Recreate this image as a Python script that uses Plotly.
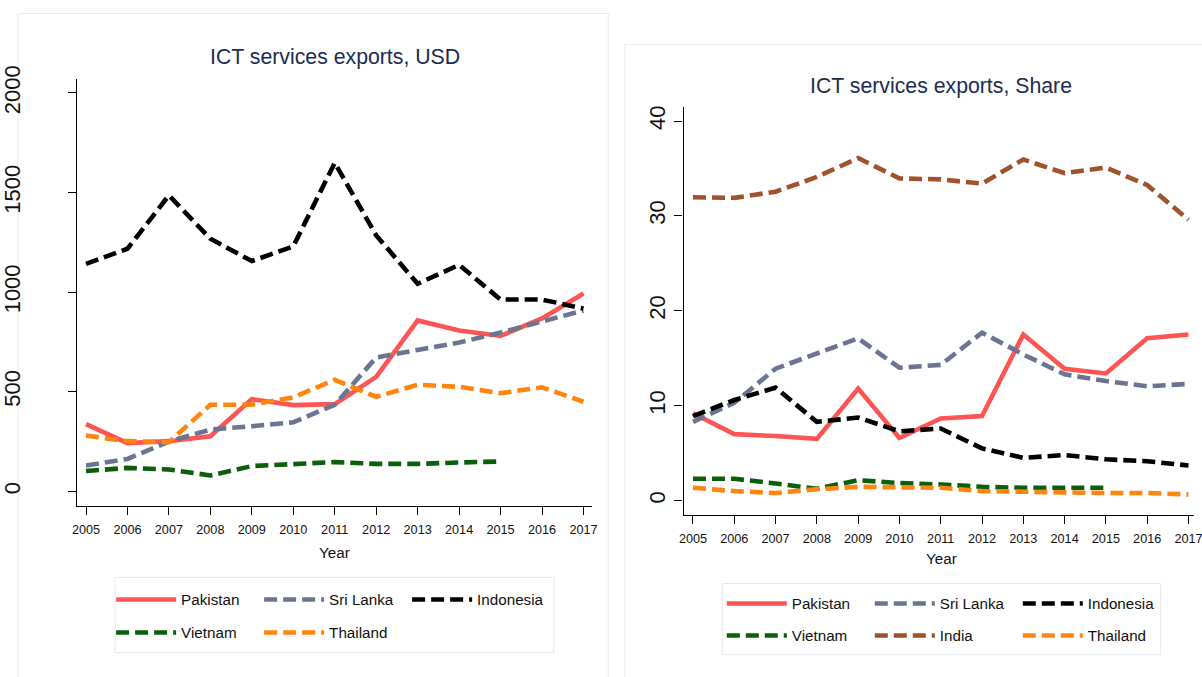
import plotly.graph_objects as go

# ---------------- data ----------------
years = list(range(2005, 2018))
year_labels = [str(y) for y in years]

usd_pakistan = [338, 242, 252, 277, 463, 433, 438, 575, 858, 808, 780, 868, 993]
usd_srilanka = [130, 163, 250, 310, 327, 347, 435, 672, 710, 747, 797, 850, 908]
usd_indonesia = [1142, 1218, 1486, 1268, 1156, 1230, 1649, 1285, 1042, 1137, 963, 963, 918]
usd_vietnam = [102, 118, 110, 80, 127, 138, 147, 138, 138, 145, 150, None, None]
usd_thailand = [280, 252, 247, 435, 435, 472, 560, 475, 535, 525, 493, 522, 450]

share_pakistan = [9.2, 7.0, 6.8, 6.5, 11.8, 6.6, 8.65, 8.9, 17.5, 13.9, 13.4, 17.1, 17.5]
share_srilanka = [8.3, 10.3, 13.9, 15.5, 17.1, 14.0, 14.3, 17.7, 15.4, 13.3, 12.6, 12.05, 12.3]
share_indonesia = [8.9, 10.6, 11.9, 8.3, 8.75, 7.3, 7.6, 5.5, 4.5, 4.8, 4.35, 4.15, 3.7]
share_vietnam = [2.3, 2.3, 1.8, 1.25, 2.15, 1.85, 1.7, 1.45, 1.35, 1.35, 1.35, None, None]
share_india = [31.96, 31.9, 32.55, 34.1, 36.1, 33.95, 33.85, 33.4, 35.95, 34.5, 35.1, 33.25, 29.6]
share_thailand = [1.35, 1.0, 0.8, 1.2, 1.45, 1.35, 1.35, 1.0, 0.9, 0.9, 0.8, 0.8, 0.65]

usd_ticks = [0, 500, 1000, 1500, 2000]
share_ticks = [0, 10, 20, 30, 40]

title_left = "ICT services exports, USD"
title_right = "ICT services exports, Share"
xlabel = "Year"

# ---------------- styling ----------------
W, H = 1202, 677
# measured mapping page-px -> photographed px (s = S*p + O)
SX, OX = 0.987, 10.2
SY, OY = 0.979, 13.5
K = 1 / SX  # size compensation

FONT = "Liberation Sans, Arial, Helvetica, sans-serif"
DASH = "13px,6px"
LW = 4.6

colors = {
    "Pakistan": "#fd5454",
    "Sri Lanka": "#6b7591",
    "Indonesia": "#000000",
    "Vietnam": "#0a5f0a",
    "India": "#a0522d",
    "Thailand": "#ff8410",
}


def sx(s):
    """target picture x-pixel -> paper fraction"""
    return min(1.0, max(0.0, (s - OX) / SX / W))


def sy(s):
    return 1 - (s - OY) / SY / H


fig = go.Figure()


def add(name, xs, ys, xa, ya, legend):
    fig.add_trace(go.Scatter(
        x=xs, y=ys, name=name, mode="lines",
        line=dict(color=colors[name], width=LW,
                  dash="solid" if name == "Pakistan" else DASH),
        xaxis=xa, yaxis=ya, legend=legend, connectgaps=False,
        hoverinfo="skip",
    ))


add("Pakistan", years, usd_pakistan, "x", "y", "legend")
add("Sri Lanka", years, usd_srilanka, "x", "y", "legend")
add("Indonesia", years, usd_indonesia, "x", "y", "legend")
add("Vietnam", years, usd_vietnam, "x", "y", "legend2")
add("Thailand", years, usd_thailand, "x", "y", "legend2")

add("Pakistan", years, share_pakistan, "x2", "y2", "legend3")
add("Sri Lanka", years, share_srilanka, "x2", "y2", "legend3")
add("Indonesia", years, share_indonesia, "x2", "y2", "legend3")
add("Vietnam", years, share_vietnam, "x2", "y2", "legend4")
add("India", years, share_india, "x2", "y2", "legend4")
add("Thailand", years, share_thailand, "x2", "y2", "legend4")

xaxis_common = dict(
    showline=True, linecolor="#000", linewidth=1.3, ticks="outside", ticklen=8,
    tickcolor="#000", tickwidth=1.2, showgrid=False, zeroline=False,
    tickvals=years, ticktext=year_labels,
    tickfont=dict(family=FONT, size=12.5 * K, color="#111"),
    ticklabelstandoff=4, ticklabeloverflow="allow", fixedrange=True,
)
yaxis_common = dict(
    showline=True, linecolor="#000", linewidth=1.3, ticks="outside", ticklen=8,
    tickcolor="#000", tickwidth=1.2, showgrid=False, zeroline=False,
    tickangle=-90, tickfont=dict(family=FONT, size=22, color="#111"),
    ticklabeloverflow="allow", fixedrange=True,
)

leg_common = dict(
    orientation="h", itemwidth=60, entrywidth=73, entrywidthmode="pixels",
    font=dict(family=FONT, size=15 * K, color="#111"),
    bgcolor="rgba(0,0,0,0)", borderwidth=0, xanchor="left", yanchor="middle",
    traceorder="normal", itemclick=False, itemdoubleclick=False,
)

# axis extents measured on the target picture
L_x0, L_x1, L_y0, L_y1 = 72, 590, 505.7, 79.3
R_x0, R_y0, R_y1 = 682.5, 514.3, 107.3
R_x1 = OX + SX * W  # right edge of the page in picture px

l_scale = (581.7 - 80.7) / 12.0
l_range = [2005 - (80.7 - L_x0) / l_scale, 2017 + (L_x1 - 581.7) / l_scale]
r_scale = (1191 - 692) / 12.0
r_range = [2005 - (692 - R_x0) / r_scale, 2017 + (R_x1 - 1191) / r_scale]

ly_scale = (491 - 93.3) / 2000.0
ly_range = [-(L_y0 - 491) / ly_scale, 2000 + (93.3 - L_y1) / ly_scale]
ry_scale = (500.2 - 121.3) / 40.0
ry_range = [-(R_y0 - 500.2) / ry_scale, 40 + (121.3 - R_y1) / ry_scale]

fig.update_layout(
    width=W, height=H, autosize=False,
    margin=dict(l=0, r=0, t=0, b=0, pad=0),
    paper_bgcolor="white", plot_bgcolor="white",
    xaxis=dict(domain=[sx(L_x0), sx(L_x1)], range=l_range, anchor="y", **xaxis_common),
    yaxis=dict(domain=[sy(L_y0), sy(L_y1)], range=ly_range, anchor="x",
               tickvals=usd_ticks, ticktext=[str(t) for t in usd_ticks],
               ticklabelstandoff=39, **yaxis_common),
    xaxis2=dict(domain=[sx(R_x0), 1.0], range=r_range, anchor="y2", **xaxis_common),
    yaxis2=dict(domain=[sy(R_y0), sy(R_y1)], range=ry_range, anchor="x2",
                tickvals=share_ticks, ticktext=[str(t) for t in share_ticks],
                ticklabelstandoff=1, **yaxis_common),
    legend=dict(x=sx(106), y=sy(599), **leg_common),
    legend2=dict(x=sx(106), y=sy(632), **leg_common),
    legend3=dict(x=sx(721), y=sy(603), **leg_common),
    legend4=dict(x=sx(721), y=sy(635), **leg_common),
    showlegend=True,
)

# panel frames and legend boxes
frame_col = "#e6edf0"
fig.add_shape(type="rect", xref="paper", yref="paper",
              x0=sx(12), x1=sx(606.7), y0=-0.1, y1=sy(14),
              line=dict(color=frame_col, width=1), fillcolor="rgba(0,0,0,0)", layer="below")
fig.add_shape(type="rect", xref="paper", yref="paper",
              x0=sx(623.3), x1=1.05, y0=-0.1, y1=sy(45),
              line=dict(color=frame_col, width=1), fillcolor="rgba(0,0,0,0)", layer="below")
fig.add_shape(type="rect", xref="paper", yref="paper",
              x0=sx(110), x1=sx(552), y0=sy(652), y1=sy(577),
              line=dict(color="#e3eaee", width=1), fillcolor="rgba(0,0,0,0)", layer="below")
fig.add_shape(type="rect", xref="paper", yref="paper",
              x0=sx(721.5), x1=sx(1163), y0=sy(654), y1=sy(583),
              line=dict(color="#e3eaee", width=1), fillcolor="rgba(0,0,0,0)", layer="below")

TITLE_COL = "#1d2b52"
for txt, x, y, size, col in [
    (title_left, 331, 57, 21 * K, TITLE_COL),
    (title_right, 942, 86, 21 * K, TITLE_COL),
    (xlabel, 331, 552, 15 * K, "#111"),
    (xlabel, 942, 558, 15 * K, "#111"),
]:
    fig.add_annotation(text=txt, x=sx(x), y=sy(y), xref="paper", yref="paper",
                       xanchor="center", yanchor="middle", showarrow=False,
                       font=dict(family=FONT, size=size, color=col))

fig.write_html("out.html", config={"displayModeBar": False},
               post_script="document.body.style.margin='0';document.body.style.overflow='hidden';")
